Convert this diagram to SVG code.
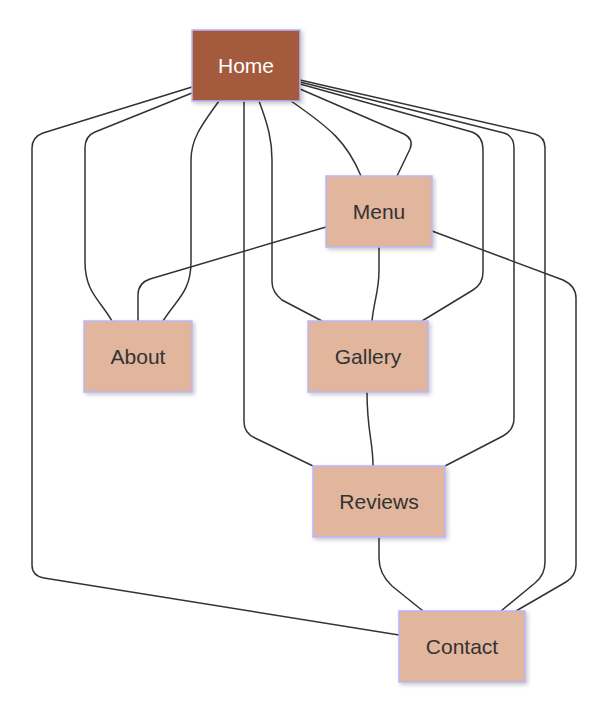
<svg xmlns="http://www.w3.org/2000/svg" width="613" height="704" viewBox="0 0 613 704">
<defs>
<filter id="sh" x="-20%" y="-20%" width="140%" height="140%">
<feDropShadow dx="2" dy="2" stdDeviation="2" flood-color="#000" flood-opacity="0.22"/>
</filter>
</defs>
<style>
.node rect{fill:#e2b59d;stroke:#b9b5fb;stroke-width:1.5;filter:url(#sh)}
.node text{font-family:"Liberation Sans",Arial,sans-serif;font-size:21px;fill:#333;text-anchor:middle;dominant-baseline:central}
#home rect{fill:#a35a3c}
#home text{fill:#fff}
.edges path{fill:none;stroke:#333;stroke-width:1.5}
</style>
<rect width="613" height="704" fill="#fff"/>
<g class="edges">
<path d="M192,87 L43,133 Q32,137 32,148 L32,565 Q32,576 44,578 L399,635"/>
<path d="M192,93 L95,132 Q85,136 85,148 L85,262 C85,292 100,300 112,321"/>
<path d="M219,101 C200,127 191,140 191,160 L191,262 C191,292 176,300 163,321"/>
<path d="M244,101 L244,422 Q244,433 255,438 L313,466"/>
<path d="M259,101 C268,125 272,140 272,160 L272,282 Q272,292 282,300 L322,321"/>
<path d="M291,101 C330,128 347,142 361,176"/>
<path d="M300,89 L404,134 Q414,139 410,149 L397,176"/>
<path d="M300,84 L472,132 Q483,136 483,150 L483,272 Q483,284 473,290 L422,321"/>
<path d="M300,82 L504,133 Q514,136 514,148 L514,418 Q514,430 503,436 L445,466"/>
<path d="M300,80 L535,134 Q545,137 545,148 L545,562 Q545,575 535,583 L501,611"/>
<path d="M326,227 L150,279 Q138,283 138,295 L138,321"/>
<path d="M379,247 L379,270 C379,292 374,300 372,321"/>
<path d="M432,231 L563,280 Q576,286 576,298 L576,565 Q576,576 566,582 L516,611"/>
<path d="M367,392 C367,432 373,440 373,466"/>
<path d="M379,538 L379,558 Q379,574 392,586 L423,611"/>
</g>
<g id="home" class="node"><rect x="192" y="30" width="108" height="71"/><text x="246" y="65.5">Home</text></g>
<g id="menu" class="node"><rect x="326" y="176" width="106" height="71"/><text x="379" y="211.5">Menu</text></g>
<g id="about" class="node"><rect x="84" y="321" width="108" height="71"/><text x="138" y="356.5">About</text></g>
<g id="gallery" class="node"><rect x="308" y="321" width="120" height="71"/><text x="368" y="356.5">Gallery</text></g>
<g id="reviews" class="node"><rect x="313" y="466" width="132" height="71"/><text x="379" y="501.5">Reviews</text></g>
<g id="contact" class="node"><rect x="399" y="611" width="126" height="71"/><text x="462" y="646.5">Contact</text></g>
</svg>
